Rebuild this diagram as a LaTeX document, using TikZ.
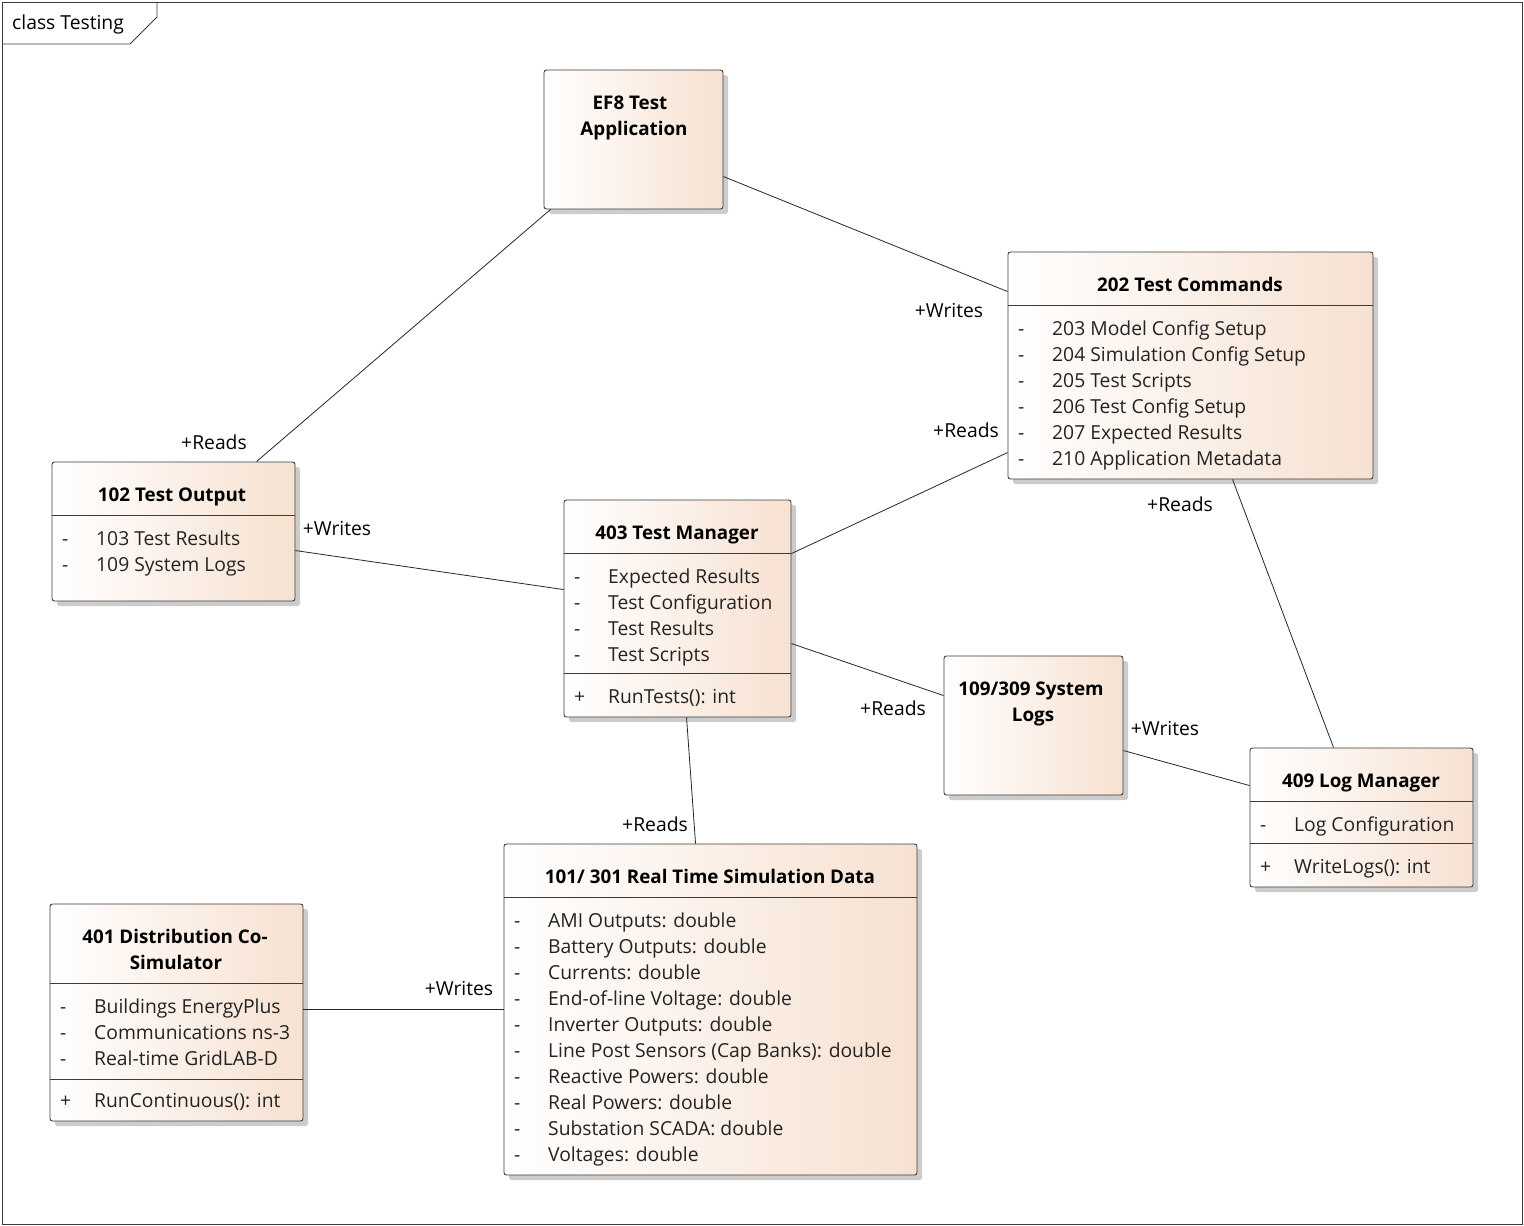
\documentclass[tikz,border=0pt]{standalone}
\usepackage{fontspec}
\setmainfont{Open Sans}
\usetikzlibrary{shadows,calc}
\definecolor{peach}{RGB}{247,225,209}
\definecolor{txt}{RGB}{35,35,35}
\definecolor{edge}{RGB}{60,60,60}
\tikzset{
  umlbox/.style={draw=edge, line width=0.9pt, rounded corners=2.5pt,
    left color=white, right color=peach, inner sep=0pt,
    drop shadow={shadow xshift=5pt, shadow yshift=-5pt, fill=black!20, opacity=1}},
  sepline/.style={draw=edge, line width=0.9pt},
  conn/.style={draw=black!85, line width=0.8pt},
  ttl/.style={font=\fontsize{18.8}{22}\selectfont\bfseries, text=black, inner sep=0pt, anchor=base},
  attr/.style={font=\fontsize{19.3}{22}\selectfont, text=txt, inner sep=0pt, anchor=base west},
  lbl/.style={font=\fontsize{19.3}{22}\selectfont, text=black, inner sep=0pt, anchor=base},
}
\newcommand{\dsh}{\makebox[34pt][l]{-}}
\newcommand{\pls}{\makebox[34pt][l]{+}}
\begin{document}
\begin{tikzpicture}[x=1pt,y=-1pt]
\useasboundingbox (0,0) rectangle (1524,1226);
% frame
\draw[line width=0.9pt, draw=edge] (2,2) rectangle (1522,1224);
\draw[line width=0.9pt, draw=edge] (2,44) -- (130,44) -- (157,17) -- (157,2);
\node[lbl, anchor=base west] (frametitle) at (12,29) {class Testing};

% boxes
\node[umlbox, minimum width=179pt, minimum height=139pt] (ef8) at (633.5,139.5) {};
\node[umlbox, minimum width=365pt, minimum height=227pt] (tc) at (1190.5,365.5) {};
\node[umlbox, minimum width=243pt, minimum height=139pt] (to) at (173.5,531.5) {};
\node[umlbox, minimum width=227pt, minimum height=217pt] (tm) at (677.5,608.5) {};
\node[umlbox, minimum width=179pt, minimum height=139pt] (sl) at (1033.5,725.5) {};
\node[umlbox, minimum width=223pt, minimum height=139pt] (lm) at (1361.5,817.5) {};
\node[umlbox, minimum width=413pt, minimum height=331pt] (rt) at (710.5,1009.5) {};
\node[umlbox, minimum width=253pt, minimum height=217pt] (ds) at (176.5,1012.5) {};

% separators
\draw[sepline] ([yshift=-54pt]tc.north west) -- ([yshift=-54pt]tc.north east);
\draw[sepline] ([yshift=-54pt]to.north west) -- ([yshift=-54pt]to.north east);
\draw[sepline] ([yshift=-54pt]tm.north west) -- ([yshift=-54pt]tm.north east);
\draw[sepline] ([yshift=-174pt]tm.north west) -- ([yshift=-174pt]tm.north east);
\draw[sepline] ([yshift=-54pt]lm.north west) -- ([yshift=-54pt]lm.north east);
\draw[sepline] ([yshift=-96pt]lm.north west) -- ([yshift=-96pt]lm.north east);
\draw[sepline] ([yshift=-54pt]rt.north west) -- ([yshift=-54pt]rt.north east);
\draw[sepline] ([yshift=-80pt]ds.north west) -- ([yshift=-80pt]ds.north east);
\draw[sepline] ([yshift=-176pt]ds.north west) -- ([yshift=-176pt]ds.north east);

% EF8
\node[ttl] (ef8t1) at (630,109) {EF8 Test};
\node[ttl] (ef8t2) at (634,135) {Application};

% 202
\node[ttl] (tct) at (1190,291) {202 Test Commands};
\node[attr] (tca1) at (1018,335) {\dsh 203 Model Config Setup};
\node[attr] (tca2) at (1018,361) {\dsh 204 Simulation Config Setup};
\node[attr] (tca3) at (1018,387) {\dsh 205 Test Scripts};
\node[attr] (tca4) at (1018,413) {\dsh 206 Test Config Setup};
\node[attr] (tca5) at (1018,439) {\dsh 207 Expected Results};
\node[attr] (tca6) at (1018,465) {\dsh 210 Application Metadata};

% 102
\node[ttl] (tot) at (172,501) {102 Test Output};
\node[attr] (toa1) at (62,545) {\dsh 103 Test Results};
\node[attr] (toa2) at (62,571) {\dsh 109 System Logs};

% 403
\node[ttl] (tmt) at (677,539) {403 Test Manager};
\node[attr] (tma1) at (574,583) {\dsh Expected Results};
\node[attr] (tma2) at (574,609) {\dsh Test Configuration};
\node[attr] (tma3) at (574,635) {\dsh Test Results};
\node[attr] (tma4) at (574,661) {\dsh Test Scripts};
\node[attr] (tmo1) at (574,703) {\pls RunTests(): int};

% 109/309
\node[ttl] (slt1) at (1031,695) {109/309 System};
\node[ttl] (slt2) at (1033,721) {Logs};

% 409
\node[ttl] (lmt) at (1361,787) {409 Log Manager};
\node[attr] (lma1) at (1260,831) {\dsh Log Configuration};
\node[attr] (lmo1) at (1260,873) {\pls WriteLogs(): int};

% 101
\node[ttl] (rtt) at (710,883) {101/ 301 Real Time Simulation Data};
\node[attr] (rta1) at (514,927) {\dsh AMI Outputs: double};
\node[attr] (rta2) at (514,953) {\dsh Battery Outputs: double};
\node[attr] (rta3) at (514,979) {\dsh Currents: double};
\node[attr] (rta4) at (514,1005) {\dsh End-of-line Voltage: double};
\node[attr] (rta5) at (514,1031) {\dsh Inverter Outputs: double};
\node[attr] (rta6) at (514,1057) {\dsh Line Post Sensors (Cap Banks): double};
\node[attr] (rta7) at (514,1083) {\dsh Reactive Powers: double};
\node[attr] (rta8) at (514,1109) {\dsh Real Powers: double};
\node[attr] (rta9) at (514,1135) {\dsh Substation SCADA: double};
\node[attr] (rta10) at (514,1161) {\dsh Voltages: double};

% 401
\node[ttl] (dst1) at (175,943) {401 Distribution Co-};
\node[ttl] (dst2) at (176,969) {Simulator};
\node[attr] (dsa1) at (60,1013) {\dsh Buildings EnergyPlus};
\node[attr] (dsa2) at (60,1039) {\dsh Communications ns-3};
\node[attr] (dsa3) at (60,1065) {\dsh Real-time GridLAB-D};
\node[attr] (dso1) at (60,1107) {\pls RunContinuous(): int};

% connectors
\draw[conn] ([xshift=7pt]ef8.south west) -- ([xshift=205pt]to.north west);
\draw[conn] ([yshift=-107pt]ef8.north east) -- ([yshift=-40pt]tc.north west);
\draw[conn] ([yshift=-90pt]tm.north west) -- ([yshift=-89pt]to.north east);
\draw[conn] ([yshift=-54pt]tm.north east) -- ([yshift=-201pt]tc.north west);
\draw[conn] ([yshift=-144pt]tm.north east) -- ([yshift=-40pt]sl.north west);
\draw[conn] ([xshift=123pt]tm.south west) -- ([xshift=192pt]rt.north west);
\draw[conn] ([xshift=225pt]tc.south west) -- ([xshift=84pt]lm.north west);
\draw[conn] ([yshift=-95pt]sl.north east) -- ([yshift=-38pt]lm.north west);
\draw[conn] ([yshift=-106pt]ds.north east) -- ([yshift=-166pt]rt.north west);

% labels
\node[lbl] (l1) at (214,449) {+Reads};
\node[lbl] (l2) at (949,317) {+Writes};
\node[lbl] (l3) at (337,535) {+Writes};
\node[lbl] (l4) at (966,437) {+Reads};
\node[lbl] (l5) at (893,715) {+Reads};
\node[lbl] (l6) at (655,831) {+Reads};
\node[lbl] (l7) at (1180,511) {+Reads};
\node[lbl] (l8) at (1165,735) {+Writes};
\node[lbl] (l9) at (459,995) {+Writes};
\end{tikzpicture}
\end{document}
